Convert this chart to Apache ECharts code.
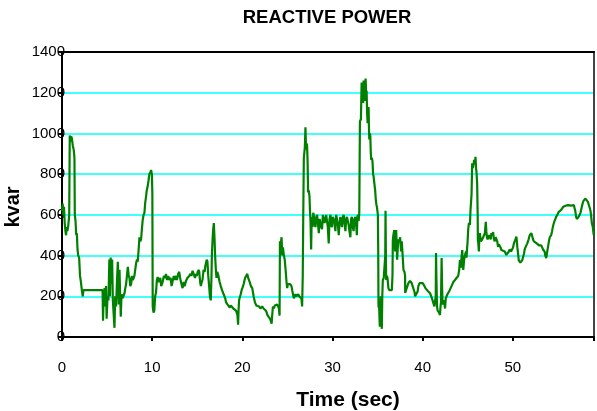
<!DOCTYPE html>
<html>
<head>
<meta charset="utf-8">
<script src="https://cdn.jsdelivr.net/npm/echarts@6/dist/echarts.min.js"></script>
<style>html,body{margin:0;padding:0;background:#fff}#c{width:597px;height:411px}</style>
</head>
<body>
<div id="c"></div>
<script>
const titleText = 'REACTIVE POWER';
const xName = 'Time (sec)';
const yName = 'kvar';
const xTicks = [0, 10, 20, 30, 40, 50];
const yTicks = [0, 200, 400, 600, 800, 1000, 1200, 1400];

const times = [
0,0.08,0.15,0.22,0.3,0.38,0.45,0.52,0.6,0.7,0.8,0.86,0.95,1.02,1.1,1.2,1.3,1.38,1.42,1.5,1.58,1.65,1.72,1.8,1.9,2.0,2.1,2.2,2.3,2.38,4.5,
4.55,4.62,4.72,4.8,4.88,4.95,5.05,5.15,5.25,5.32,5.4,5.48,5.56,5.64,5.72,5.82,5.9,6.0,6.1,6.19,6.25,6.3,6.38,6.45,6.52,6.6,6.7,6.8,6.93,7.02,7.11,7.2,7.3,7.4,7.48,7.57,7.67,7.76,7.85,7.95,8.03,8.12,8.22,8.32,8.4,8.5,8.59,8.68,8.77,8.86,8.95,9.05,9.14,9.23,9.32,9.4,9.5,9.6,9.69,9.8,9.88,9.97,10.02,10.06,10.15,10.24,10.33,10.43,10.52,10.61,10.7,10.8,
10.9,11.0,11.16,11.3,11.45,11.53,11.65,11.78,11.9,12.05,12.15,12.27,12.4,12.5,12.64,12.75,12.88,13.0,13.1,13.25,13.37,13.5,13.6,13.75,13.9,14.0,14.11,14.25,14.35,14.48,14.6,14.75,14.85,14.95,15.05,15.15,15.22,15.32,15.4,15.5,15.58,15.7,15.82,15.9,15.96,16.05,16.13,16.22,16.32,16.4,16.5,16.58,16.62,16.7,16.76,16.84,16.92,16.98,17.05,17.13,17.22,17.35,17.48,17.61,17.75,17.88,17.98,18.1,18.2,18.35,18.5,18.6,18.72,18.85,19.0,19.1,19.2,19.3,19.45,19.53,19.58,19.64,19.75,19.82,19.92,20.0,20.15,20.3,20.42,20.55,20.65,20.82,20.95,21.1,21.25,21.4,21.55,21.66,21.85,22.0,22.2,22.35,22.5,22.59,22.7,22.76,22.9,23.06,23.15,23.25,23.3,23.39,23.5,23.6,23.69,23.85,23.98,24.05,24.13,24.17,24.27,24.35,24.42,24.5,24.61,24.7,24.8,24.9,24.97,25.05,25.16,25.3,25.45,25.53,25.62,25.71,25.8,25.9,26.0,26.08,26.2,26.3,26.45,26.55,26.63,26.7,26.76,
26.82,26.93,27.0,27.07,27.13,27.18,27.24,27.29,27.37,27.45,27.5,27.56,27.63,27.68,27.74,27.8,27.86,27.92,28.0,28.11,28.2,28.29,28.38,28.48,28.57,28.66,28.75,28.84,28.93,29.03,29.12,29.21,29.3,29.39,29.48,29.58,29.67,29.77,29.85,29.94,30.03,30.13,30.22,30.32,30.41,30.5,30.6,30.69,30.78,30.87,30.96,31.05,31.15,31.24,31.33,31.43,31.52,31.6,31.7,31.79,31.88,31.98,32.06,32.15,32.25,32.34,32.43,32.53,32.62,32.7,32.76,32.82,32.9,32.97,33.04,33.15,33.23,33.3,33.34,33.4,33.45,33.5,33.56,33.62,33.67,33.73,33.78,33.84,33.89,33.95,34.0,34.04,34.08,34.14,34.19,34.25,34.3,34.37,34.44,34.5,34.55,34.6,34.66,34.73,34.81,34.87,34.92,34.98,35.03,35.07,35.1,35.18,35.22,35.25,35.3,35.36,35.42,35.47,35.52,35.58,35.68,35.77,35.85,35.88,35.92,35.95,36.02,36.1,36.2,36.29,36.4,36.5,36.58,36.65,36.69,36.75,36.84,36.9,36.95,37.0,37.06,37.12,37.17,37.24,37.31,37.4,37.5,37.6,37.68,37.78,37.87,37.98,38.05,38.06,38.15,38.23,38.3,38.42,
38.5,38.6,38.78,38.9,38.97,39.1,39.16,39.25,39.34,39.45,39.52,39.65,39.71,39.85,40.0,40.08,40.2,40.3,40.44,40.6,40.82,40.95,41.0,41.1,41.18,41.3,41.37,41.45,41.48,41.52,41.59,41.66,41.73,41.82,41.92,41.98,42.03,42.1,42.15,42.21,42.3,42.4,42.48,42.56,42.65,42.75,42.84,43.0,43.2,43.4,43.58,43.75,43.94,44.05,44.13,44.2,44.24,44.32,44.39,44.45,44.5,44.6,44.69,44.8,44.86,44.93,44.97,45.05,45.13,45.2,45.24,45.3,45.35,45.42,45.49,45.56,45.6,45.65,45.71,45.8,45.86,45.92,45.97,46.04,46.1,46.12,46.17,46.23,46.3,46.34,46.45,46.52,46.6,46.71,46.8,46.9,46.95,47.0,47.06,47.12,47.2,47.26,47.35,47.45,47.55,47.62,47.7,47.81,47.9,48.0,48.1,48.18,48.27,48.36,48.45,48.55,48.64,48.73,48.9,49.1,49.28,
49.47,49.56,49.65,49.8,49.9,50.02,50.12,50.2,50.3,50.39,50.45,50.5,50.58,50.65,50.74,50.83,50.94,51.05,51.15,51.24,51.31,51.4,51.5,51.6,51.75,51.87,51.95,52.05,52.15,52.23,52.33,52.42,52.55,52.65,52.79,52.9,53.0,53.15,53.25,53.34,53.45,53.52,53.6,53.7,53.78,53.89,54.0,54.1,54.25,54.35,54.44,54.55,54.63,54.72,54.81,54.9,54.99,55.1,55.2,55.36,55.5,55.6,55.73,55.85,55.95,56.1,56.2,56.3,56.46,56.6,56.76,56.83,56.92,57.02,57.1,57.2,57.3,57.4,57.5,57.57,57.65,57.76,57.85,57.94,58.05,58.12,58.2,58.31,58.39,58.49,58.61,58.67,58.76,58.86,58.97
];

const kvar = [
620,655,600,640,560,520,500,540,520,550,600,990,960,985,975,940,920,880,600,570,500,510,430,400,390,300,270,230,200,230,230,
80,200,240,150,250,90,200,180,380,200,390,260,380,180,120,45,200,150,280,370,250,160,330,200,100,210,190,200,215,240,260,300,345,300,290,250,260,300,280,290,300,330,363,380,370,430,490,470,480,530,575,600,610,660,690,720,740,770,800,810,820,800,700,150,120,130,200,220,280,295,270,265,
290,250,270,300,290,310,280,300,280,290,250,255,300,280,300,280,310,320,290,260,240,270,250,275,290,285,300,310,300,325,310,290,310,300,320,330,320,270,250,270,280,330,320,350,355,380,370,300,250,200,180,300,400,480,525,560,480,400,340,290,320,300,270,250,230,215,205,190,170,160,165,145,155,150,140,145,135,130,110,60,130,180,200,210,230,240,260,290,300,310,290,270,250,240,200,170,155,150,150,140,150,140,135,130,120,110,100,90,80,65,100,150,140,155,150,160,150,140,105,470,460,490,400,440,400,380,330,270,240,260,255,260,250,230,210,190,200,210,200,195,210,200,200,190,150,300,620,
880,930,1030,920,950,940,860,710,720,690,620,570,430,560,590,540,610,600,560,540,590,600,560,510,580,580,540,530,600,600,560,560,600,600,540,460,580,600,550,540,590,580,560,520,600,600,550,500,560,590,570,540,590,600,560,520,580,590,570,550,520,490,580,590,540,520,580,590,550,500,590,600,570,610,1060,1070,1250,1200,1230,1150,1260,1190,1160,1230,1270,1200,1210,1100,1050,1120,1130,1030,970,1000,990,900,870,880,860,800,790,790,790,720,670,650,640,620,600,420,150,140,80,50,120,200,100,40,200,280,290,290,400,620,400,280,300,290,240,230,235,230,230,300,476,500,525,450,420,500,525,450,380,440,480,470,490,420,470,400,330,320,300,216,215,220,250,265,
270,275,265,270,260,220,200,195,195,225,250,265,265,260,265,260,250,240,235,225,215,200,195,180,167,150,175,200,412,300,150,130,133,120,108,150,170,388,250,160,180,170,140,190,200,210,215,230,250,270,280,290,300,330,378,350,340,400,427,370,330,380,400,420,390,440,460,530,560,560,550,620,624,700,854,830,840,850,870,860,885,830,810,756,600,476,460,420,500,510,470,476,480,490,500,510,540,566,520,490,480,476,500,490,480,510,500,515,480,470,490,490,470,443,455,460,440,427,430,420,403,
403,420,430,420,425,440,460,470,480,493,470,440,410,378,375,365,363,378,395,410,430,440,440,460,480,500,505,510,495,480,470,475,465,460,460,450,455,450,440,430,425,420,400,388,410,440,470,490,500,520,542,560,570,580,591,600,605,615,610,624,630,640,635,645,650,648,640,650,645,640,648,640,620,590,580,584,590,600,610,624,640,660,670,673,680,677,675,665,660,640,620,600,560,542,500
];

const seriesData = times.map((t, i) => [t, kvar[i]]);
const font = 'Liberation Sans, Arial, sans-serif';

const chart = echarts.init(document.getElementById('c'), null, {renderer: 'canvas'});
chart.setOption({
  animation: false,
  backgroundColor: '#ffffff',
  title: {
    text: titleText,
    left: 322, top: 3, textAlign: 'center',
    textStyle: {fontFamily: font, fontWeight: 'bold', fontSize: 18.5, color: '#000'}
  },
  graphic: [{
    type: 'text', x: 13, y: 207, rotation: Math.PI / 2,
    style: {text: yName, fontFamily: font, fontWeight: 'bold', fontSize: 20, fill: '#000', align: 'center', verticalAlign: 'middle'}
  }, {
    type: 'text', x: 348, y: 400,
    style: {text: xName, fontFamily: font, fontWeight: 'bold', fontSize: 21, fill: '#000', align: 'center', verticalAlign: 'middle'}
  }],
  grid: {left: 62, right: 1, top: 52, bottom: 74, containLabel: false},
  xAxis: [{
    type: 'value', min: 0, max: 59, interval: 10,
    axisLine: {show: true, onZero: false, lineStyle: {color: '#000', width: 2}},
    axisTick: {show: true, length: 4, lineStyle: {color: '#000', width: 2}},
    axisLabel: {margin: 23, fontFamily: font, fontSize: 15, color: '#000',
      formatter: v => (xTicks.indexOf(v) >= 0 ? String(v) : '')},
    splitLine: {show: false}
  }, {
    type: 'value', min: 0, max: 59, position: 'top',
    axisLine: {show: true, onZero: false, lineStyle: {color: '#000', width: 2}},
    axisTick: {show: false}, axisLabel: {show: false}, splitLine: {show: false}
  }],
  yAxis: [{
    type: 'value', min: 0, max: 1400, interval: 200,
    axisLine: {show: true, onZero: false, lineStyle: {color: '#000', width: 2}},
    axisTick: {show: true, length: 4, lineStyle: {color: '#000', width: 2}},
    axisLabel: {margin: -3, fontFamily: font, fontSize: 15, color: '#000',
      formatter: v => (yTicks.indexOf(v) >= 0 ? String(v) : '')},
    splitLine: {show: true, lineStyle: {color: '#00ffff', width: 1.6}}
  }, {
    type: 'value', min: 0, max: 1400, position: 'right',
    axisLine: {show: true, onZero: false, lineStyle: {color: '#444', width: 2}},
    axisTick: {show: false}, axisLabel: {show: false}, splitLine: {show: false}
  }],
  series: [{
    type: 'line', xAxisIndex: 0, yAxisIndex: 0,
    data: seriesData, showSymbol: false, symbol: 'none',
    lineStyle: {color: '#008000', width: 2.2}
  }]
});
</script>
</body>
</html>
